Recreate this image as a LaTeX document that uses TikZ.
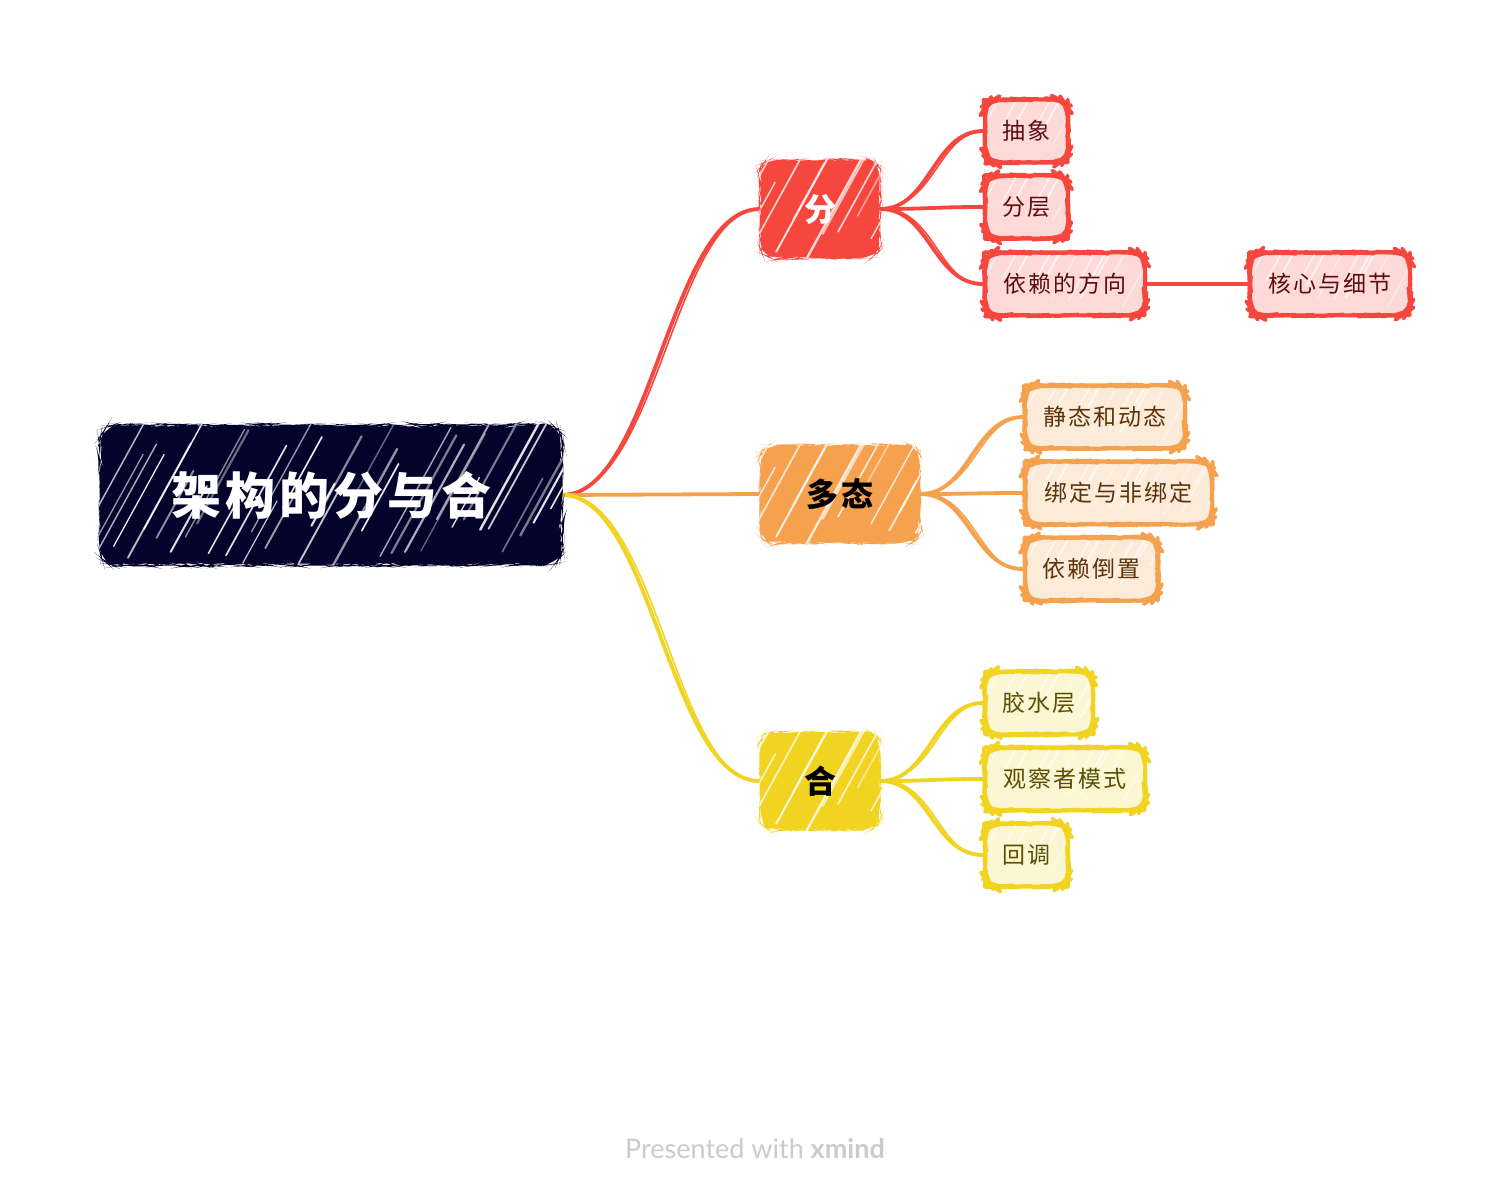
\documentclass[tikz,border=0pt]{standalone}
\usepackage{fontspec}
\setmainfont{Lato}
\newfontfamily\cjk[LetterSpace=8]{Noto Sans CJK SC}
\usetikzlibrary{calc,decorations.pathmorphing}

\definecolor{navy}{HTML}{03032B}
\definecolor{cred}{HTML}{F6473F}
\definecolor{credl}{HTML}{FDDAD8}
\definecolor{credt}{HTML}{5E0C0C}
\definecolor{corg}{HTML}{F5A14E}
\definecolor{corgl}{HTML}{FDEBDA}
\definecolor{corgt}{HTML}{5C3208}
\definecolor{cyel}{HTML}{F1D422}
\definecolor{cyell}{HTML}{FCF6D2}
\definecolor{cyelt}{HTML}{5B4E05}
\definecolor{wmark}{HTML}{CBCBCB}

\pgfdeclarelayer{bg}
\pgfsetlayers{bg,main}

\tikzset{
  sketch/.style={decorate, decoration={random steps, segment length=2.5pt, amplitude=0.4pt}},
  softsketch/.style={decorate, decoration={random steps, segment length=3pt, amplitude=0.2pt}},
  % white pencil strokes clipped to the node: seed, count, spacing, height, max opacity
  hatch/.style n args={5}{path picture={
      \pgfmathsetseed{#1}
      \foreach \i in {-8,...,#2}{
        \pgfmathsetmacro\xo{\i*#3+rand*4}
        \pgfmathsetmacro\yo{rnd*#4}
        \pgfmathsetmacro\len{40+rnd*110}
        \pgfmathsetmacro\op{0.4+rnd*#5}
        \pgfmathsetmacro\lw{0.6+rnd*0.6}
        \draw[white, line width=\lw pt, opacity=\op, line cap=round]
          ($(path picture bounding box.south west)+(\xo,-\yo)$) -- ++(0.55*\len,-\len);
      }
    }},
  rootbox/.style={fill=navy, sketch, rounded corners=8pt, inner sep=0pt,
    minimum width=231pt, minimum height=70pt, text=white,
    font=\cjk\bfseries\fontsize{25}{25}\selectfont, hatch={11}{38}{14}{60}{0.6}},
  branch/.style={fill=#1, sketch, rounded corners=7pt, inner sep=0pt,
    minimum height=49pt, font=\cjk\bfseries\fontsize{16}{16}\selectfont,
    hatch={5}{12}{16}{50}{0.5}},
  leaf/.style 2 args={fill=#2, draw=#1, line width=1.9pt, line join=round,
    softsketch, rounded corners=7pt,
    inner sep=0pt, minimum height=31.5pt, font=\cjk\fontsize{11.5}{11.5}\selectfont,
    hatch={3}{14}{14}{40}{0.4}},
  conn/.style={draw=#1, line width=1.9pt, line cap=round},
  connthin/.style={draw=#1, line width=0.8pt, line cap=round},
}

% curved link between two nodes, drawn twice for a pencil look
\newcommand\mmlink[4]{%
  \draw[conn=#1] (#2.east) .. controls +(#4,0) and +(-#4,0) .. (#3.west);
  \draw[connthin=#1] ([yshift=0.5pt]#2.east) .. controls +(#4+5,0) and +(-#4+5,0) .. ([yshift=-0.4pt]#3.west);
}

\begin{document}
\begin{tikzpicture}[x=0.5pt,y=-0.5pt]
  \useasboundingbox (0,0) rectangle (1512,1200);

  % root
  \node[rootbox] (root) at (331,495) {架构的分与合};

  % main branches
  \node[branch=cred, text=white, minimum width=60pt] (fen) at (820,209) {分};
  \node[branch=corg, text=black, minimum width=80pt] (duotai) at (840,494) {多态};
  \node[branch=cyel, text=black, minimum width=60pt] (he) at (820,781) {合};

  % sub topics of 分
  \node[leaf={cred}{credl}, text=credt, minimum width=41.5pt] (chouxiang) at (1026.5,131) {抽象};
  \node[leaf={cred}{credl}, text=credt, minimum width=41.5pt] (fenceng) at (1026.5,207) {分层};
  \node[leaf={cred}{credl}, text=credt, minimum width=80pt] (yilai) at (1065,284) {依赖的方向};
  \node[leaf={cred}{credl}, text=credt, minimum width=80pt] (hexin) at (1330,284) {核心与细节};

  % sub topics of 多态
  \node[leaf={corg}{corgl}, text=corgt, minimum width=80pt] (jingtai) at (1105,417) {静态和动态};
  \node[leaf={corg}{corgl}, text=corgt, minimum width=93.5pt] (bangding) at (1118.5,493) {绑定与非绑定};
  \node[leaf={corg}{corgl}, text=corgt, minimum width=66.5pt] (daozhi) at (1091.5,569) {依赖倒置};

  % sub topics of 合
  \node[leaf={cyel}{cyell}, text=cyelt, minimum width=54pt] (jiaoshui) at (1039,703) {胶水层};
  \node[leaf={cyel}{cyell}, text=cyelt, minimum width=80pt] (guancha) at (1065,779) {观察者模式};
  \node[leaf={cyel}{cyell}, text=cyelt, minimum width=41.5pt] (huidiao) at (1026.5,855) {回调};

  % footer
  \node[text=wmark, font=\fontsize{13.5}{13.5}\selectfont] (footer) at (755,1149)
    {Presented with \textbf{xmind}};

  \begin{pgfonlayer}{bg}
    \fill[white] (0,0) rectangle (1512,1200);
    \mmlink{cred}{root}{fen}{90}
    \draw[conn=corg] (root.east) -- (duotai.west);
    \mmlink{cyel}{root}{he}{90}

    \mmlink{cred}{fen}{chouxiang}{50}
    \mmlink{cred}{fen}{fenceng}{50}
    \mmlink{cred}{fen}{yilai}{50}
    \draw[conn=cred] (yilai.east) -- (hexin.west);

    \mmlink{corg}{duotai}{jingtai}{50}
    \mmlink{corg}{duotai}{bangding}{50}
    \mmlink{corg}{duotai}{daozhi}{50}

    \mmlink{cyel}{he}{jiaoshui}{50}
    \mmlink{cyel}{he}{guancha}{50}
    \mmlink{cyel}{he}{huidiao}{50}
  \end{pgfonlayer}
\end{tikzpicture}
\end{document}
